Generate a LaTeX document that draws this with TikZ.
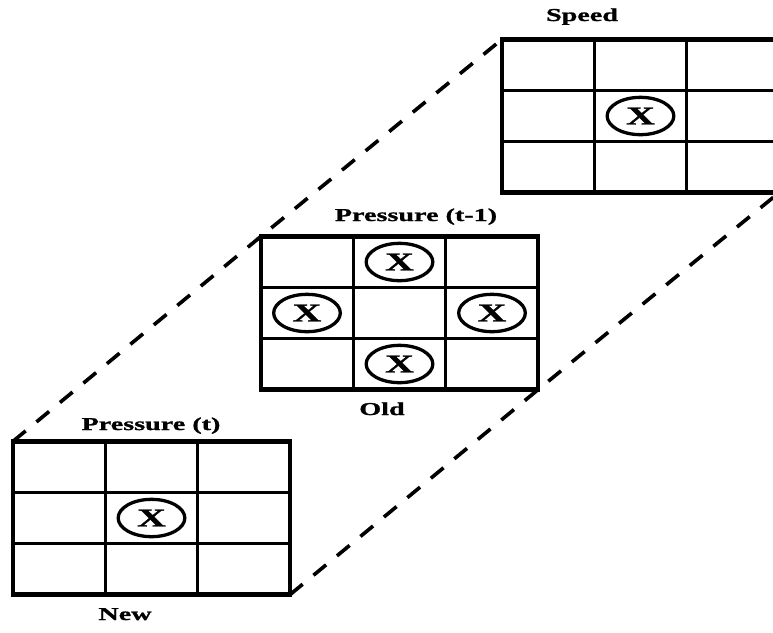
\documentclass[tikz,border=0pt]{standalone}
\usepackage{fontspec}
\setmainfont{Liberation Serif}
\newfontfamily\widefont[FakeStretch=1.55, BoldFeatures={FakeBold=1.2}]{Liberation Serif}
\usetikzlibrary{calc,shapes.geometric,backgrounds}
\tikzset{
  panel/.style={rectangle, draw, fill=white, line width=4pt,
    minimum width=8.31cm, minimum height=4.6cm, inner sep=0pt, outer sep=0pt},
  cellline/.style={line width=3.1pt},
  hit/.style={ellipse, draw, line width=2.8pt, minimum width=2cm,
    minimum height=1.12cm, inner sep=0pt,
    font=\widefont\bfseries\fontsize{22}{22}\selectfont},
  caption/.style={anchor=base, inner sep=0pt,
    font=\widefont\bfseries\fontsize{15.5}{18}\selectfont},
  link/.style={dash pattern=on 14pt off 12pt, line width=3.1pt}
}
\begin{document}
\begin{tikzpicture}[x=0.03cm, y=-0.03cm]
  \useasboundingbox (0,0) rectangle (773,632);
  % the three grids
  \node[panel] (new) at (151.5,518) {};
  \node[panel] (old) at (399.5,313) {};
  \node[panel] (speed) at (640.5,116) {};
  \foreach \g in {new,old,speed}{
    \foreach \f in {1/3,2/3}{
      \draw[cellline] ($(\g.north west)!\f!(\g.north east)$) -- ($(\g.south west)!\f!(\g.south east)$);
      \draw[cellline] ($(\g.north west)!\f!(\g.south west)$) -- ($(\g.north east)!\f!(\g.south east)$);
    }
  }
  % marked cells
  \node[hit] (new-c) at (new.center) {X};
  \node[hit] (old-n) at ($(old.center)+(0,-51)$) {X};
  \node[hit] (old-w) at ($(old.center)+(-92.5,0)$) {X};
  \node[hit] (old-e) at ($(old.center)+(92.5,0)$) {X};
  \node[hit] (old-s) at ($(old.center)+(0,51)$) {X};
  \node[hit] (speed-c) at (speed.center) {X};
  % labels
  \node[caption] (speed-lbl) at (582,21) {Speed};
  \node[caption] (old-lbl) at (416,221) {Pressure (t-1)};
  \node[caption] (old-sub) at (382,415) {Old};
  \node[caption] (new-lbl) at (151,430) {Pressure (t)};
  \node[caption] (new-sub) at (125,620) {New};
  % dashed links behind the grids
  \begin{pgfonlayer}{background}
    \draw[link] (new.north west) -- (old.north west) -- (speed.north west);
    \draw[link] (new.south east) -- (old.south east) -- (speed.south east);
  \end{pgfonlayer}
\end{tikzpicture}
\end{document}
